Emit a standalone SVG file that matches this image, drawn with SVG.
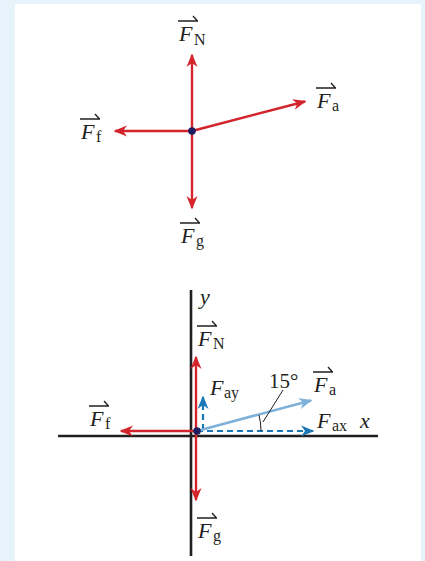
<svg xmlns="http://www.w3.org/2000/svg" width="425" height="561" viewBox="0 0 425 561">
<style>
.F{font-family:"Liberation Serif","DejaVu Serif",serif;font-style:italic;font-size:22px;fill:#231f20}
.s{font-family:"Liberation Serif","DejaVu Serif",serif;font-size:16px;fill:#231f20}
.n{font-family:"Liberation Serif","DejaVu Serif",serif;font-size:21px;fill:#231f20}
.vec{stroke:#231f20;stroke-width:1.3;fill:none}
.red{stroke:#d3242c;stroke-width:2.4;fill:none;marker-end:url(#mr)}
.axis{stroke:#231f20;stroke-width:2.6}
.dash{stroke:#1b78b6;stroke-width:2.2;stroke-dasharray:6 4;fill:none;marker-end:url(#mb)}
.lb{stroke:#7db1da;stroke-width:2.6;fill:none;marker-end:url(#ml)}
</style>
<defs>
<marker id="mr" markerUnits="userSpaceOnUse" markerWidth="20" markerHeight="20" refX="0" refY="0" orient="auto" overflow="visible"><path d="M1.5,0 L-12,-5.5 L-8,0 L-12,5.5 Z" fill="#d3242c"/></marker>
<marker id="mb" markerUnits="userSpaceOnUse" markerWidth="20" markerHeight="20" refX="0" refY="0" orient="auto" overflow="visible"><path d="M1.5,0 L-12,-5.5 L-8,0 L-12,5.5 Z" fill="#1b78b6"/></marker>
<marker id="ml" markerUnits="userSpaceOnUse" markerWidth="20" markerHeight="20" refX="0" refY="0" orient="auto" overflow="visible"><path d="M1.5,0 L-12,-5.5 L-8,0 L-12,5.5 Z" fill="#7db1da"/></marker>
</defs>
<rect width="425" height="561" fill="#e7f3fa"/>
<rect x="15" y="4" width="406" height="557" fill="#ffffff"/>

<g id="connectors">
<line class="red" x1="192" y1="131" x2="192" y2="55"/>
<line class="red" x1="192" y1="131" x2="192" y2="208"/>
<line class="red" x1="192" y1="131" x2="115" y2="131"/>
<line class="red" x1="192" y1="131" x2="305" y2="101.5"/>

<line class="axis" x1="191" y1="290" x2="191" y2="556"/>
<line class="axis" x1="58" y1="436" x2="378" y2="436"/>
<line class="red" x1="196" y1="431" x2="196" y2="357"/>
<line class="red" x1="196" y1="431" x2="196" y2="500"/>
<line class="red" x1="196" y1="431" x2="121" y2="431"/>
<line class="dash" x1="197" y1="431" x2="313" y2="431"/>
<line class="dash" x1="203" y1="430" x2="203" y2="397"/>
<line class="lb" x1="197" y1="431" x2="311" y2="400.5"/>
<path d="M261,431 A64,64 0 0 0 259,415" stroke="#231f20" stroke-width="1" fill="none"/>
<line x1="263" y1="422" x2="283" y2="390" stroke="#231f20" stroke-width="1"/>
</g>

<g id="dot-top"><circle cx="192" cy="131" r="3.8" fill="#1c1c5e"/></g>
<g id="dot-bottom"><circle cx="197" cy="431" r="3.8" fill="#1c1c5e"/></g>

<g id="label-FN-top"><path class="vec" d="M178,21 h20 M193,16 l4.5,5"/><text class="F" x="179" y="41">F</text><text class="s" x="194" y="45">N</text></g>
<g id="label-Fa-top"><path class="vec" d="M316,88 h20 M331,83 l4.5,5"/><text class="F" x="317" y="108">F</text><text class="s" x="332" y="111">a</text></g>
<g id="label-Ff-top"><path class="vec" d="M80,119 h20 M95,114 l4.5,5"/><text class="F" x="81" y="139">F</text><text class="s" x="96" y="142">f</text></g>
<g id="label-Fg-top"><path class="vec" d="M180,223 h20 M195,218 l4.5,5"/><text class="F" x="181" y="243">F</text><text class="s" x="196" y="246">g</text></g>

<g id="label-y"><text class="F" x="200" y="304">y</text></g>
<g id="label-FN"><path class="vec" d="M197,326 h20 M212,321 l4.5,5"/><text class="F" x="198" y="346">F</text><text class="s" x="213" y="349">N</text></g>
<g id="label-Fay"><text class="F" x="210" y="395">F</text><text class="s" x="224" y="398">ay</text></g>
<g id="label-angle"><text class="n" x="269" y="388">15°</text></g>
<g id="label-Fa"><path class="vec" d="M313,372 h20 M328,367 l4.5,5"/><text class="F" x="314" y="392">F</text><text class="s" x="329" y="395">a</text></g>
<g id="label-Fax"><text class="F" x="317" y="428">F</text><text class="s" x="332" y="431">ax</text></g>
<g id="label-x"><text class="F" x="360" y="428">x</text></g>
<g id="label-Ff"><path class="vec" d="M89,406 h20 M104,401 l4.5,5"/><text class="F" x="90" y="426">F</text><text class="s" x="105" y="429">f</text></g>
<g id="label-Fg"><path class="vec" d="M197,518 h20 M212,513 l4.5,5"/><text class="F" x="198" y="538">F</text><text class="s" x="213" y="541">g</text></g>
</svg>
